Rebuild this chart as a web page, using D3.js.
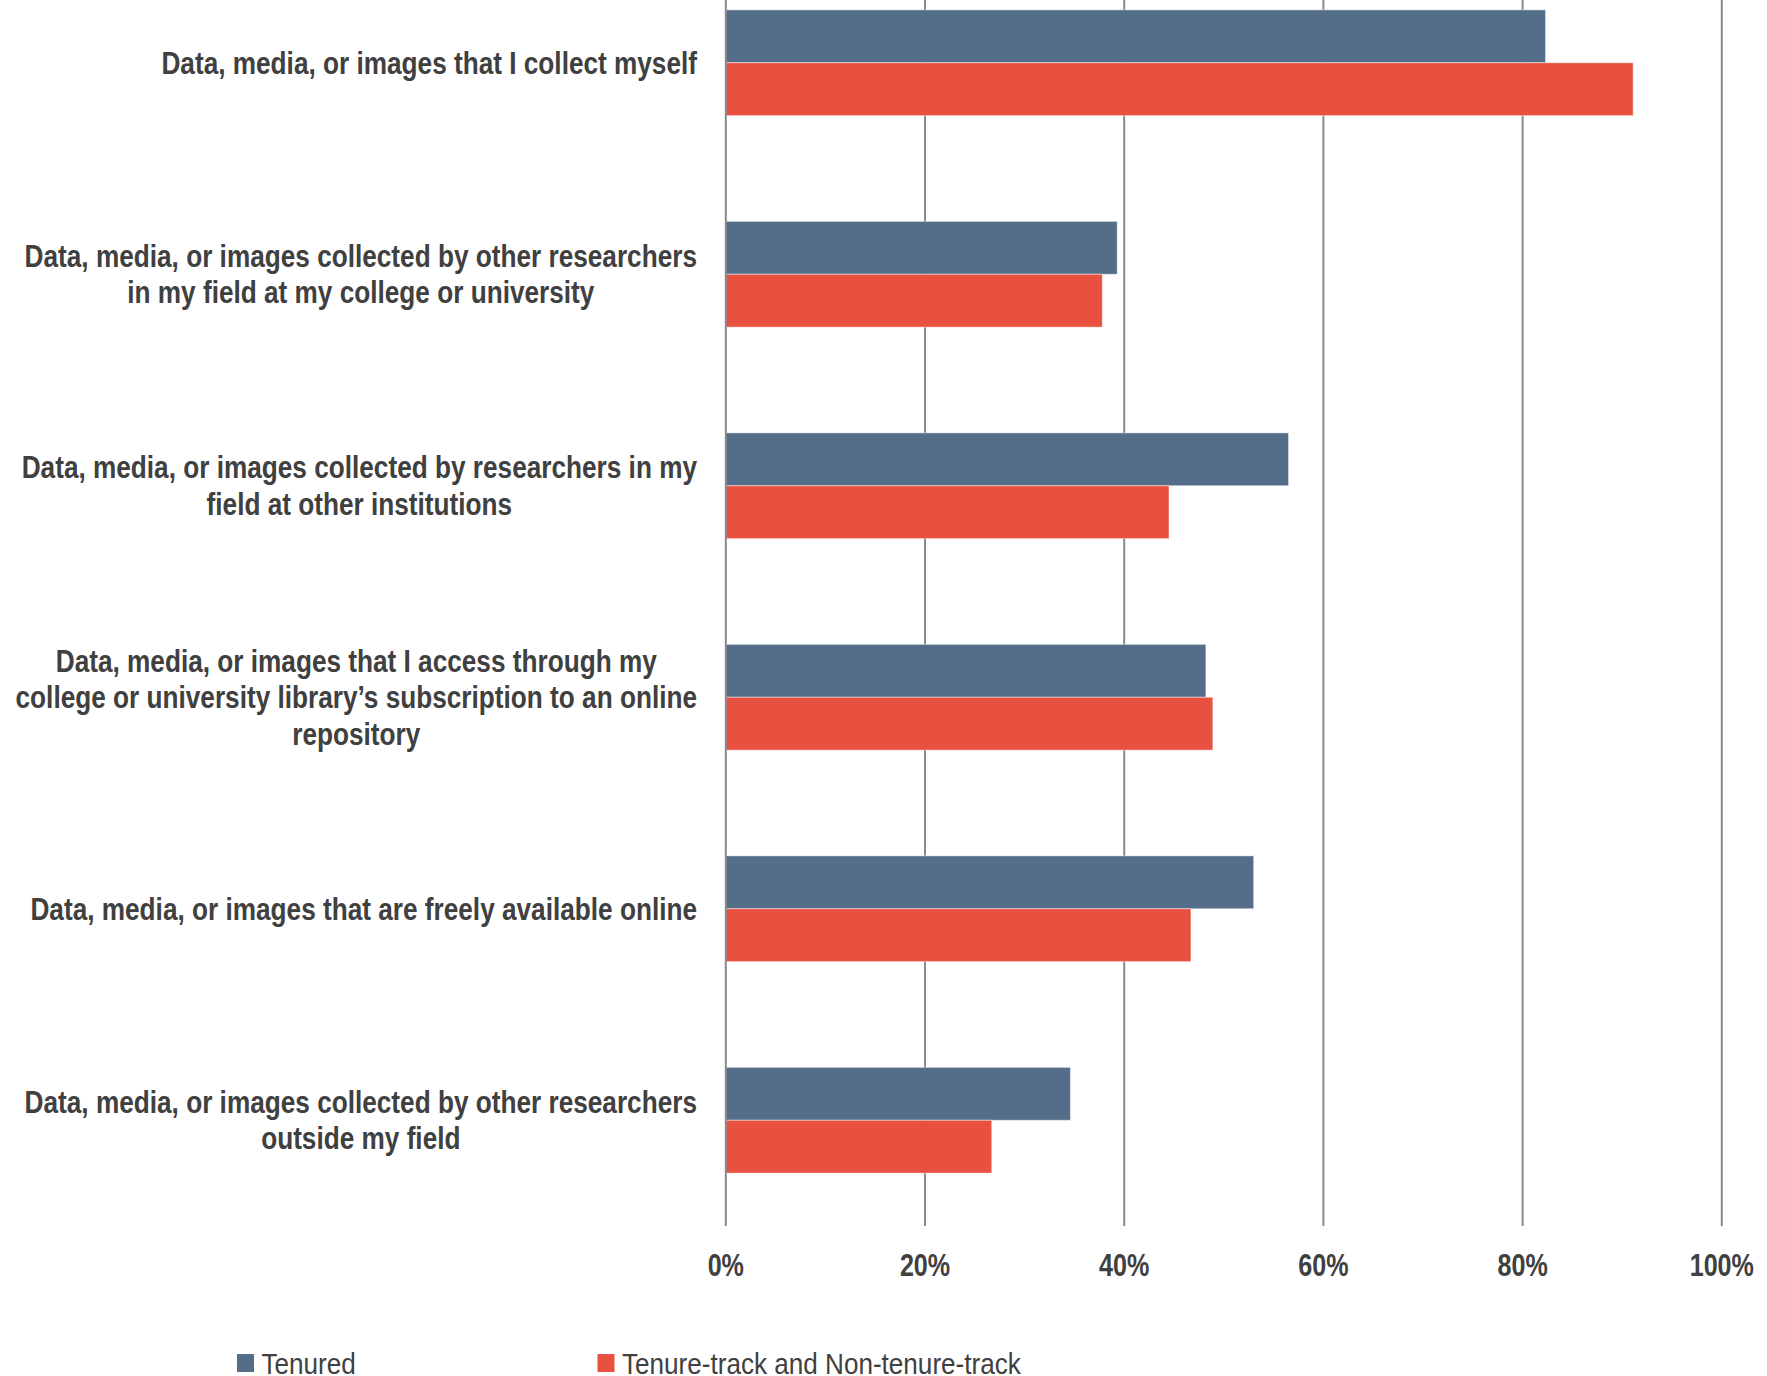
<!DOCTYPE html>
<html>
<head>
<meta charset="utf-8">
<script src="https://cdn.jsdelivr.net/npm/d3@7"></script>
<style>
  html, body { margin: 0; padding: 0; background: #ffffff; }
  svg { display: block; }
  text { font-family: "Liberation Sans Narrow", "Arial Narrow", "Liberation Sans", Arial, sans-serif; fill: #404040; }
</style>
</head>
<body>
<svg id="chart" width="1767" height="1376"></svg>
<script>
// Category labels, each split into its display lines
const categories = [
  ["Data, media, or images that I collect myself"],
  ["Data, media, or images collected by other researchers", "in my field at my college or university"],
  ["Data, media, or images collected by researchers in my", "field at other institutions"],
  ["Data, media, or images that I access through my", "college or university library\u2019s subscription to an online", "repository"],
  ["Data, media, or images that are freely available online"],
  ["Data, media, or images collected by other researchers", "outside my field"]
];

const seriesNames = ["Tenured", "Tenure-track and Non-tenure-track"];

// Share of respondents (%) per category
const tenured    = [82.3, 39.3, 56.5, 48.2, 53.0, 34.6];
const nonTenured = [91.1, 37.8, 44.5, 48.9, 46.7, 26.7];

const tickValues = [0, 20, 40, 60, 80, 100];
const tickLabels = ["0%", "20%", "40%", "60%", "80%", "100%"];

const seriesColors = ["#546e8a", "#e8503f"];

const seriesValues = [tenured, nonTenured];

const svg = d3.select("#chart");

// Layout
const plotLeft = 725.8, plotRight = 1721.8;
const plotTop = -43, plotBottom = 1226;
const labelRight = 697;
const lineHeight = 36.5;
// Horizontal condensing, so the sans face reads like a narrow cut
const labelSqueeze = 0.845, tickSqueeze = 0.81, legendSqueeze = 0.87;

const x = d3.scaleLinear().domain([0, 100]).range([plotLeft, plotRight]);
const y = d3.scaleBand()
  .domain(d3.range(categories.length))
  .range([plotTop, plotBottom])
  .paddingInner(0.5)
  .paddingOuter(0.25);
const ySub = d3.scaleBand().domain(d3.range(seriesNames.length)).range([0, y.bandwidth()]);

// Vertical gridlines (behind bars)
svg.append("g")
  .selectAll("line")
  .data(tickValues.filter(t => t !== 0))
  .join("line")
  .attr("x1", d => x(d)).attr("x2", d => x(d))
  .attr("y1", 0).attr("y2", plotBottom)
  .attr("stroke", "#8a8a8a")
  .attr("stroke-width", 2);

// Bars
const groups = svg.append("g")
  .selectAll("g")
  .data(categories.map((c, i) => i))
  .join("g")
  .attr("transform", i => `translate(0,${y(i)})`);

groups.selectAll("rect")
  .data(i => seriesValues.map((vals, s) => ({ s, v: vals[i] })))
  .join("rect")
  .attr("x", x(0))
  .attr("y", d => ySub(d.s))
  .attr("width", d => x(d.v) - x(0))
  .attr("height", ySub.bandwidth())
  .attr("fill", d => seriesColors[d.s])
  .attr("stroke", "rgba(255,255,255,0.45)")
  .attr("stroke-width", 1);

// Value axis line at 0%
svg.append("line")
  .attr("x1", x(0)).attr("x2", x(0))
  .attr("y1", 0).attr("y2", plotBottom)
  .attr("stroke", "#8a8a8a")
  .attr("stroke-width", 2);

// Tick labels
svg.append("g")
  .selectAll("g")
  .data(tickValues)
  .join("g")
  .attr("transform", d => `translate(${x(d)},1276) scale(${tickSqueeze},1)`)
  .append("text")
  .attr("text-anchor", "middle")
  .attr("font-size", 31)
  .attr("font-weight", "bold")
  .text((d, i) => tickLabels[i]);

// Category labels: lines centred within a block that is right-aligned to the axis
const labelG = svg.append("g")
  .attr("transform", `translate(${labelRight},0) scale(${labelSqueeze},1)`);
categories.forEach((lines, i) => {
  const cy = y(i) + y.bandwidth() / 2;
  const t = labelG.append("text")
    .attr("font-size", 31)
    .attr("font-weight", "bold")
    .attr("text-anchor", "middle");
  const spans = lines.map((ln, k) => t.append("tspan")
    .attr("y", cy + (k - (lines.length - 1) / 2) * lineHeight + 11)
    .text(ln));
  const maxW = d3.max(spans, s => s.node().getComputedTextLength());
  spans.forEach(s => s.attr("x", -maxW / 2));
});

// Legend
const legendX = [237, 597.5];
const legend = svg.append("g")
  .selectAll("g")
  .data(seriesNames)
  .join("g")
  .attr("transform", (d, i) => `translate(${legendX[i]},0)`);
legend.append("rect")
  .attr("x", 0).attr("y", 1354)
  .attr("width", 17).attr("height", 18)
  .attr("fill", (d, i) => seriesColors[i]);
legend.append("g")
  .attr("transform", `translate(24.5,1373.5) scale(${legendSqueeze},1)`)
  .append("text")
  .attr("font-size", 30)
  .text(d => d);
</script>
</body>
</html>
